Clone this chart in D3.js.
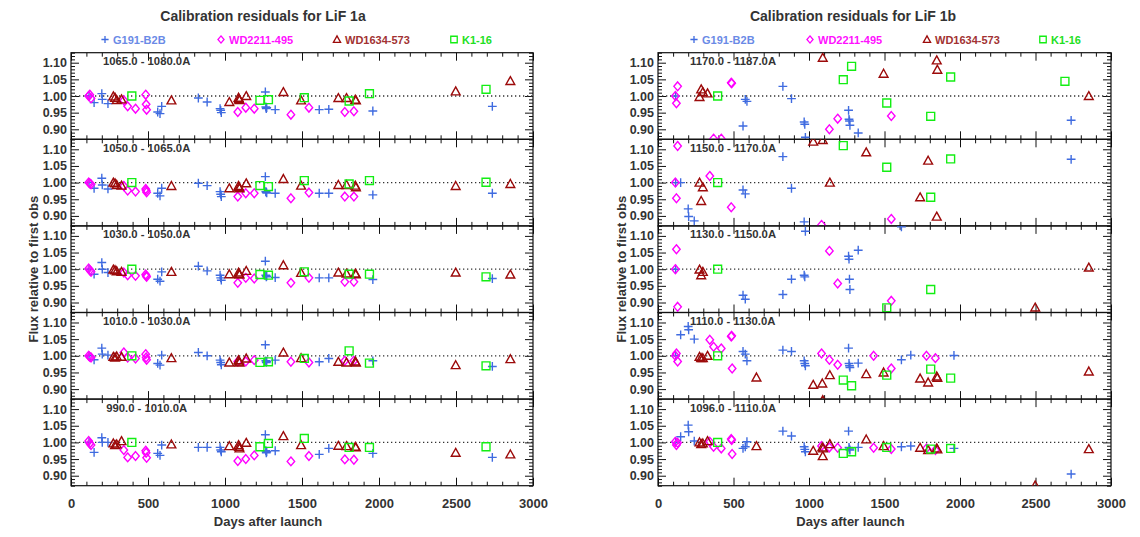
<!DOCTYPE html>
<html>
<head>
<meta charset="utf-8">
<script src="https://cdn.jsdelivr.net/npm/d3@7"></script>
<style>
  body { margin: 0; background: #fff; }
  svg text { font-family: "Liberation Sans", Arial, Helvetica, sans-serif; font-weight: bold; fill: #333; }
</style>
</head>
<body>
<svg id="chart" width="1140" height="537"></svg>
<script>
// ---- Observation epochs (days after launch) for each calibration star ----
const g191Days   = [117, 150, 200, 203, 240, 563, 578, 589, 827, 884, 968, 972, 976, 1262, 1265, 1268, 1271, 1326, 1612, 1674, 1960, 2736];
const wd2211Days = [115, 122, 130, 343, 368, 419, 485, 488, 491, 1083, 1135, 1190, 1428, 1545, 1778, 1837];
const wd1634Days = [275, 286, 297, 328, 652, 1028, 1088, 1091, 1094, 1138, 1379, 1494, 1736, 1789, 1846, 1850, 2498, 2853];
const k116Days   = [395, 1227, 1282, 1515, 1806, 1938, 2695];

// ---- Wavelength bands, top panel first ----
const bands1a = ["1065.0 - 1080.0A", "1050.0 - 1065.0A", "1030.0 - 1050.0A", "1010.0 - 1030.0A", " 990.0 - 1010.0A"];
const bands1b = ["1170.0 - 1187.0A", "1150.0 - 1170.0A", "1130.0 - 1150.0A", "1110.0 - 1130.0A", "1096.0 - 1110.0A"];

// ---- Flux relative to first observation, LiF 1a (one row per band) ----
const g191_1a = [
  [1.000, 0.980, 1.007, 0.990, 0.977, 0.952, 0.947, 0.969, 0.994, 0.982, 0.962, 0.957, 0.950, 1.012, 0.967, 0.962, 0.965, 0.959, 0.959, 0.960, 0.955, 0.969],
  [1.000, 0.983, 1.013, 0.993, 0.981, 0.968, 0.960, 0.983, 0.998, 0.991, 0.973, 0.965, 0.958, 1.018, 0.973, 0.971, 0.969, 0.968, 0.968, 0.968, 0.963, 0.968],
  [1.000, 0.985, 1.020, 1.000, 0.990, 0.970, 0.964, 0.992, 1.009, 0.995, 0.982, 0.974, 0.967, 1.024, 0.982, 0.977, 0.979, 0.975, 0.974, 0.974, 0.969, 0.972],
  [1.000, 0.988, 1.023, 1.005, 1.002, 0.977, 0.972, 1.002, 1.010, 1.000, 0.987, 0.980, 0.973, 1.033, 0.985, 0.980, 0.983, 0.987, 0.982, 0.992, 0.985, 0.968],
  [1.000, 0.970, 1.014, 1.000, 1.000, 0.967, 0.961, 0.992, 0.985, 0.985, 0.985, 0.977, 0.972, 1.023, 0.975, 0.969, 0.972, 0.975, 0.964, 0.982, 0.967, 0.955]
];
const wd2211_1a = [
  [1.000, 1.004, 0.993, 0.987, 0.969, 0.962, 1.004, 0.975, 0.959, 0.952, 0.965, 0.962, 0.944, 0.965, 0.952, 0.954],
  [1.000, 0.998, 0.995, 0.990, 0.976, 0.973, 0.981, 0.976, 0.971, 0.958, 0.968, 0.968, 0.953, 0.970, 0.958, 0.958],
  [1.002, 0.997, 0.992, 0.990, 0.982, 0.980, 0.984, 0.980, 0.977, 0.959, 0.974, 0.972, 0.959, 0.974, 0.962, 0.962],
  [1.000, 0.997, 0.995, 1.010, 0.995, 0.992, 1.005, 0.995, 0.988, 0.983, 0.983, 0.987, 0.982, 0.980, 0.985, 0.985],
  [1.004, 0.997, 0.992, 0.977, 0.955, 0.959, 0.975, 0.969, 0.954, 0.944, 0.950, 0.961, 0.943, 0.959, 0.949, 0.948]
];
const wd1634_1a = [
  [0.999, 0.995, 0.988, 0.990, 0.987, 0.982, 0.995, 0.991, 0.988, 1.000, 1.012, 0.987, 0.994, 0.994, 0.989, 0.987, 1.014, 1.045],
  [1.000, 0.998, 0.993, 0.991, 0.990, 0.983, 0.990, 0.986, 0.983, 0.998, 1.011, 0.991, 0.993, 0.993, 0.991, 0.986, 0.990, 0.996],
  [0.999, 0.997, 0.994, 0.992, 0.992, 0.985, 0.990, 0.986, 0.984, 0.995, 1.012, 0.989, 0.990, 0.987, 0.987, 0.985, 0.990, 0.984],
  [0.997, 0.995, 0.998, 0.997, 0.993, 0.980, 0.987, 0.983, 0.980, 0.992, 1.010, 0.993, 0.982, 0.980, 0.983, 0.980, 0.972, 0.990],
  [0.997, 0.992, 0.994, 1.004, 0.994, 0.989, 0.992, 0.987, 0.982, 0.999, 1.019, 0.992, 0.990, 0.989, 0.987, 0.985, 0.969, 0.964]
];
const k116_1a = [
  [1.000, 0.987, 0.989, 0.995, 0.985, 1.007, 1.020],
  [1.000, 0.991, 0.988, 1.006, 0.996, 1.006, 1.001],
  [1.000, 0.984, 0.982, 0.992, 0.985, 0.985, 0.977],
  [1.000, 0.980, 0.982, 0.992, 1.015, 0.978, 0.970],
  [1.000, 0.987, 0.997, 1.012, 0.985, 0.985, 0.987]
];

// ---- Flux relative to first observation, LiF 1b (null = far outside the plotted range) ----
const g191_1b = [
  [1.000, null, null, null, null, 0.910, 0.990, 0.984, 1.029, 0.992, 0.922, 0.915, 0.876, 0.957, 0.930, 0.925, 0.912, 0.889, null, null, null, 0.927],
  [1.000, 1.000, 0.921, 0.898, 0.885, 0.978, 0.966, null, 1.078, 0.983, 0.882, null, null, null, null, null, null, null, null, null, null, 1.070],
  [1.000, null, null, null, null, 0.922, 0.910, null, 0.924, 0.970, 0.982, 0.977, 1.114, 1.039, 1.030, 0.970, 0.939, 1.057, 1.127, null, null, null],
  [1.000, 1.063, 1.088, 1.078, 1.050, 1.013, 1.005, 0.985, 1.017, 1.013, 0.985, 0.977, 0.970, 1.023, 0.977, 0.970, 0.965, 0.978, 0.988, 1.002, 1.001, null],
  [1.000, 1.017, 1.052, 1.032, 1.004, 0.982, 0.987, 1.002, 1.034, 1.019, 0.987, 0.979, 0.972, 1.034, 0.985, 0.980, 0.977, 0.985, 0.987, 0.989, 0.982, 0.905]
];
const wd2211_1b = [
  [1.000, 0.978, 1.029, null, 0.872, 0.872, 1.040, 1.038, null, null, 0.900, 0.932, null, 0.940, null, null],
  [1.000, 0.953, 1.110, 1.020, null, null, 0.926, null, null, 0.873, null, null, null, 0.891, null, null],
  [1.000, 1.060, 0.887, null, null, null, null, null, null, null, 1.055, 0.957, null, 0.905, null, null],
  [1.000, 1.007, 0.983, 1.048, 1.027, 1.022, 1.058, 1.060, 0.962, 1.007, 0.988, 0.973, 1.000, 0.962, 1.000, 0.993],
  [1.002, 0.992, 0.999, 1.002, 0.987, 0.982, 1.010, 1.007, 0.965, 0.989, 0.985, 0.984, 0.984, 0.980, 0.982, 0.977]
];
const wd1634_1b = [
  [0.997, 1.020, 1.012, 1.008, null, null, null, 1.115, null, null, null, 1.067, null, null, 1.107, 1.079, null, 1.000],
  [1.000, 0.945, 0.986, null, null, 1.123, null, 1.128, null, 1.000, 1.091, null, 0.956, 1.066, 0.898, null, null, null],
  [0.999, 0.982, 0.992, null, null, null, null, null, null, null, null, null, null, null, null, null, 0.885, 1.005],
  [0.997, 0.993, 0.993, 1.000, 0.935, 0.913, 0.917, 0.867, null, 0.942, 0.945, 0.950, 0.932, 0.920, 0.938, 0.934, null, 0.953],
  [1.000, 0.995, 0.997, 1.004, 0.989, 0.975, 0.985, 0.959, 0.982, 0.995, 1.009, 0.989, 0.984, 0.977, 0.982, 0.979, 0.871, 0.980]
];
const k116_1b = [
  [1.000, 1.049, 1.089, 0.979, 0.939, 1.057, 1.044],
  [1.000, 1.111, null, 1.046, 0.956, 1.071, null],
  [1.000, null, null, 0.884, 0.939, null, null],
  [1.000, 0.927, 0.910, 0.942, 0.960, 0.933, null],
  [1.000, 0.967, 0.972, 0.985, 0.980, 0.982, null]
];

// ---- Axis ticks ----
const xMajorTicks = [0, 500, 1000, 1500, 2000, 2500, 3000];
const yMajorTicks = [0.90, 0.95, 1.00, 1.05, 1.10];
const xDomain = [0, 3000];
const yDomain = [0.87, 1.13];

// ---- Star styling ----
const starNames  = ["G191-B2B", "WD2211-495", "WD1634-573", "K1-16"];
const starShapes = ["plus", "diamond", "triangle", "square"];
const starColors = ["#3f6be0", "#ff00ff", "#9c0a0a", "#13ee13"];
const labelColors = ["#6a8ae6", "#ff10ff", "#a23232", "#22e022"];

function symbolPath(shape, s) {
  switch (shape) {
    case "plus":     return `M${-s},0H${s}M0,${-s}V${s}`;
    case "diamond":  return `M0,${-s}L${s * 0.85},0L0,${s}L${-s * 0.85},0Z`;
    case "triangle": return `M0,${-s}L${s},${s * 0.8}L${-s},${s * 0.8}Z`;
    default:         return `M${-s * 0.9},${-s * 0.9}H${s * 0.9}V${s * 0.9}H${-s * 0.9}Z`;
  }
}

const svg = d3.select("#chart");
const defs = svg.append("defs");
const panelTop = 52.7, panelH = 86.6, nPanels = 5;

const charts = [
  { id: "a", left: 71, right: 533, title: "Calibration residuals for LiF 1a", bands: bands1a,
    values: [g191_1a, wd2211_1a, wd1634_1a, k116_1a], legendOffsets: [34, 150, 266, 383], titleOffset: 192, yTitleX: 33 },
  { id: "b", left: 658, right: 1111, title: "Calibration residuals for LiF 1b", bands: bands1b,
    values: [g191_1b, wd2211_1b, wd1634_1b, k116_1b], legendOffsets: [36, 152, 269, 385], titleOffset: 195, yTitleX: 621 }
];
const starDays = [g191Days, wd2211Days, wd1634Days, k116Days];

const xMinor = d3.range(0, 3001, 100).filter(v => v % 500 !== 0);
const yMinor = d3.range(87, 114, 1).map(v => v / 100).filter(v => Math.round(v * 100) % 5 !== 0);

const tickFont = (sel, size) => sel.style("font-size", size).style("fill", "#333")
  .style("font-family", '"Liberation Sans", Arial, sans-serif').style("font-weight", "bold");

charts.forEach(c => {
  const g = svg.append("g");
  const x = d3.scaleLinear().domain(xDomain).range([c.left, c.right]);

  // title
  g.append("text").attr("x", c.left + c.titleOffset).attr("y", 20.5)
    .attr("text-anchor", "middle").style("font-size", "14px").text(c.title);

  // legend
  starNames.forEach((name, i) => {
    const lx = c.left + c.legendOffsets[i];
    g.append("path").attr("d", symbolPath(starShapes[i], 3.6))
      .attr("transform", `translate(${lx},39.5)`)
      .attr("fill", "none").attr("stroke", starColors[i]).attr("stroke-width", 1.3);
    g.append("text").attr("x", lx + 8).attr("y", 44)
      .style("font-size", "11px").style("fill", labelColors[i]).text(name);
  });

  // y-axis title
  g.append("text")
    .attr("transform", `translate(${c.yTitleX},${panelTop + panelH * nPanels / 2}) rotate(-90)`)
    .attr("text-anchor", "middle").attr("dy", "0.35em")
    .style("font-size", "13px").text("Flux relative to first obs");

  // x-axis title
  g.append("text").attr("x", (c.left + c.right) / 2 - 34).attr("y", 526)
    .attr("text-anchor", "middle").style("font-size", "13px").text("Days after launch");

  for (let p = 0; p < nPanels; p++) {
    const top = panelTop + p * panelH, bottom = top + panelH;
    const y = d3.scaleLinear().domain(yDomain).range([bottom, top]);
    const pg = g.append("g");

    // symbols are clipped to their own panel
    const clipId = `clip-${c.id}-${p}`;
    defs.append("clipPath").attr("id", clipId).append("rect")
      .attr("x", c.left).attr("y", top).attr("width", c.right - c.left).attr("height", panelH);

    const tickAxis = (axis, sel, size, vals, fmt) => {
      const a = axis.tickValues(vals).tickSize(size).tickFormat(fmt || "");
      const el = pg.append("g").attr("transform", sel).call(a);
      el.select(".domain").remove();
      el.selectAll(".tick line").attr("stroke", "#111").attr("stroke-width", 1);
      return el;
    };

    // inward ticks on all four sides
    const yl = tickAxis(d3.axisLeft(y).tickPadding(4), `translate(${c.left},0)`, -8, yMajorTicks, d3.format(".2f"));
    yl.selectAll("text").call(tickFont, "12.5px");
    tickAxis(d3.axisLeft(y), `translate(${c.left},0)`, -4, yMinor);
    tickAxis(d3.axisRight(y), `translate(${c.right},0)`, -8, yMajorTicks);
    tickAxis(d3.axisRight(y), `translate(${c.right},0)`, -4, yMinor);
    tickAxis(d3.axisTop(x), `translate(0,${top})`, -8, xMajorTicks);
    tickAxis(d3.axisTop(x), `translate(0,${top})`, -4, xMinor);
    const xb = tickAxis(d3.axisBottom(x).tickPadding(13), `translate(0,${bottom})`, -8, xMajorTicks,
      p === nPanels - 1 ? d3.format("d") : "");
    xb.selectAll("text").call(tickFont, "13px");
    tickAxis(d3.axisBottom(x), `translate(0,${bottom})`, -4, xMinor);

    // frame
    pg.append("rect").attr("x", c.left).attr("y", top)
      .attr("width", c.right - c.left).attr("height", panelH)
      .attr("fill", "none").attr("stroke", "#111").attr("stroke-width", 1.2);

    // reference line at unity
    pg.append("line").attr("x1", c.left).attr("x2", c.right)
      .attr("y1", y(1)).attr("y2", y(1))
      .attr("stroke", "#333").attr("stroke-width", 1.3).attr("stroke-dasharray", "1.3,2.7");

    // band label
    pg.append("text").attr("x", c.left + 32).attr("y", top + 12.5)
      .style("font-size", "11.3px").style("white-space", "pre").text(c.bands[p]);

    // data points, one star at a time
    const dg = pg.append("g").attr("clip-path", `url(#${clipId})`);
    starNames.forEach((name, i) => {
      const pts = starDays[i].map((d, k) => ({ d, v: c.values[i][p][k] }))
        .filter(o => o.v !== null);
      dg.append("g").selectAll("path").data(pts).join("path")
        .attr("d", symbolPath(starShapes[i], 4.4))
        .attr("transform", o => `translate(${x(o.d)},${y(o.v)})`)
        .attr("fill", "none").attr("stroke", starColors[i]).attr("stroke-width", 1.4);
    });
  }
});
</script>
</body>
</html>
